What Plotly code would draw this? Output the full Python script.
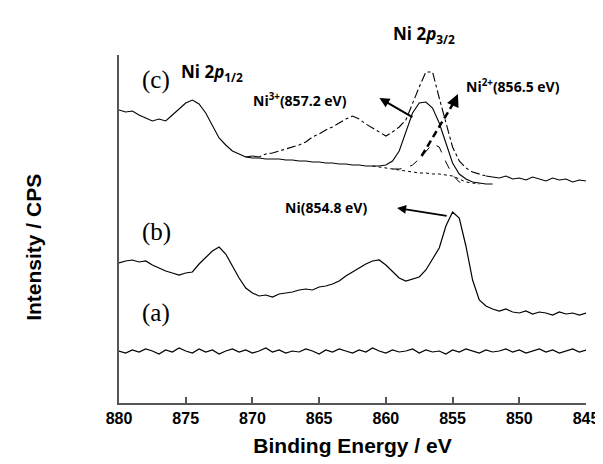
import plotly.graph_objects as go

# Binding energy grid (eV), 880 -> 845 in 0.5 eV steps
energy = [880 - 0.5 * i for i in range(71)]

# (a) flat spectrum
spec_a = [55,53,56,54,57,55,52,56,54,58,
          55,53,57,54,56,52,55,57,54,56,
          53,55,58,54,56,53,55,54,57,55,
          52,56,54,57,55,53,56,54,58,55,
          53,56,54,55,57,53,56,54,55,52,
          56,54,57,55,53,56,54,55,57,54,
          56,53,55,57,54,56,53,55,57,54,56]

# (b) metallic Ni spectrum
spec_b = [143,145,146,144,145,141,138,135,133,131,
          133,134,142,149,155,159,152,140,128,118,
          113,110,111,109,112,113,114,116,117,116,
          119,120,122,125,130,134,138,142,145,146,
          141,134,128,125,127,129,136,147,158,180,
          194,188,160,126,106,100,97,95,97,94,
          93,95,92,94,93,91,94,92,93,91,93]

# (c) oxidised Ni spectrum
spec_c = [296,294,295,291,288,285,287,285,291,297,
          303,306,302,293,281,268,261,255,252,249,
          250,249,252,253,255,257,259,261,264,269,
          272,276,279,283,287,290,287,282,278,274,
          270,274,279,286,303,319,334,334,308,282,
          259,245,238,234,232,230,229,228,230,227,
          228,226,229,227,225,228,226,227,224,226,225]

# Fit of (c): Ni3+ component on background, 870.5 -> 852 eV
fit_energy = [870.5 - 0.5 * i for i in range(38)]
fit_ni3 = [249,248,248,247,247,247,246,246,245,245,
           244,244,243,243,242,242,241,241,240,240,
           240,241,245,255,273,293,303,304,298,283,
           263,243,232,227,224,223,222,222]

# Background under the Ni2+ component, 861 -> 853 eV
bg_energy = [861 - 0.5 * i for i in range(17)]
bg_vals = [240,239,238,237,236,235,234,233,233,232,232,231,230,227,224,223,222]

# Ni2+ component, 859.5 -> 854 eV
ni2_energy = [859.5 - 0.5 * i for i in range(12)]
ni2_vals = [237,237,238,241,247,254,262,259,244,231,224,222]

tick_vals = [880, 875, 870, 865, 860, 855, 850, 845]

# plot-area pixel box (for placing paper-referenced texts)
L, R, T, B = 111, 588, 47, 395
W, H = 603, 464


def px_to_paper(px, py):
    return (px - L) / (R - L), (B - py) / (B - T)


fig = go.Figure()
line_k = dict(color="black", width=1.2)

fig.add_trace(go.Scatter(x=energy, y=spec_a, mode="lines", line=line_k))
fig.add_trace(go.Scatter(x=energy, y=spec_b, mode="lines", line=line_k))

# (c) data: solid outside the fitted window, dash-dot inside
left = [(e, v) for e, v in zip(energy, spec_c) if e >= 870]
mid = [(e, v) for e, v in zip(energy, spec_c) if 852.5 <= e <= 870]
right = [(e, v) for e, v in zip(energy, spec_c) if e <= 852.5]
for seg, dash in ((left, "solid"), (mid, "dashdot"), (right, "solid")):
    fig.add_trace(go.Scatter(x=[p[0] for p in seg], y=[p[1] for p in seg], mode="lines",
                             line=dict(color="black", width=1.1, dash=dash)))

fig.add_trace(go.Scatter(x=fit_energy, y=fit_ni3, mode="lines",
                         line=dict(color="black", width=1.1)))
fig.add_trace(go.Scatter(x=bg_energy, y=bg_vals, mode="lines",
                         line=dict(color="black", width=1, dash="dot")))
fig.add_trace(go.Scatter(x=ni2_energy, y=ni2_vals, mode="lines",
                         line=dict(color="black", width=1, dash="dash")))

# dashed arrow shaft for Ni2+
fig.add_trace(go.Scatter(x=[857.32, 854.75], y=[250, 307], mode="lines",
                         line=dict(color="black", width=2.5, dash="7px,4px")))

ann_font = dict(family="Open Sans", size=14, color="black")
serif = dict(family="Liberation Serif", size=25, color="black")
yt_x, yt_y = px_to_paper(23, 239)
p32_x, p32_y = px_to_paper(423, 27)
annotations = [
    dict(x=866.4, y=306, text="<b>Ni<sup>3+</sup>(857.2 eV)</b>", showarrow=False, font=ann_font),
    dict(x=850.5, y=320, text="<b>Ni<sup>2+</sup>(856.5 eV)</b>", showarrow=False, font=ann_font),
    dict(x=864.45, y=199, text="<b>Ni(854.8 eV)</b>", showarrow=False, font=ann_font),
    dict(x=877.2, y=326, text="(c)", showarrow=False, font=serif),
    dict(x=877.2, y=174, text="(b)", showarrow=False, font=serif),
    dict(x=877.2, y=93, text="(a)", showarrow=False, font=serif),
    dict(x=873.0, y=334, text="<b>Ni 2<i>p</i><sub>1/2</sub></b>", showarrow=False,
         font=dict(family="Open Sans", size=17, color="black")),
    dict(x=p32_x, xref="paper", y=p32_y, yref="paper", yanchor="middle",
         text="<b>Ni 2<i>p</i><sub>3/2</sub></b>", showarrow=False,
         font=dict(family="Open Sans", size=17, color="black")),
    # arrows
    dict(x=860.48, y=308, ax=857.9, ay=288, axref="x", ayref="y", text="",
         showarrow=True, arrowhead=2, arrowsize=1, arrowwidth=2, arrowcolor="black"),
    dict(x=854.6, y=312, ax=855.0, ay=300, axref="x", ayref="y", text="",
         showarrow=True, arrowhead=2, arrowsize=1, arrowwidth=2.5, arrowcolor="black"),
    dict(x=859.16, y=198, ax=855.33, ay=190, axref="x", ayref="y", text="",
         showarrow=True, arrowhead=2, arrowsize=1, arrowwidth=1.8, arrowcolor="black"),
    # y title
    dict(x=yt_x, xref="paper", y=yt_y, yref="paper", yanchor="middle",
         xanchor="center", text="<b>Intensity / CPS</b>", textangle=-90, showarrow=False,
         font=dict(family="Liberation Sans", size=21, color="black")),
]

fig.update_layout(
    width=W, height=H,
    margin=dict(l=L, r=W - R, t=T, b=H - B),
    paper_bgcolor="white", plot_bgcolor="white",
    showlegend=False,
    annotations=annotations,
    xaxis=dict(range=[880, 845], tickvals=tick_vals,
               ticktext=["<b>%d</b>" % v for v in tick_vals],
               ticks="inside", ticklen=6, tickwidth=1.5, tickcolor="#555",
               showline=True, linecolor="#555", linewidth=1.5, showgrid=False, zeroline=False,
               tickfont=dict(family="Liberation Sans", size=16, color="black"),
               title=dict(text="<b>Binding Energy / eV</b>", standoff=12,
                          font=dict(family="Liberation Sans", size=21, color="black"))),
    yaxis=dict(range=[398 - B, 351], showticklabels=False, ticks="", showline=True,
               linecolor="#555", linewidth=1.5, showgrid=False, zeroline=False),
)

fig.write_html("out.html")
